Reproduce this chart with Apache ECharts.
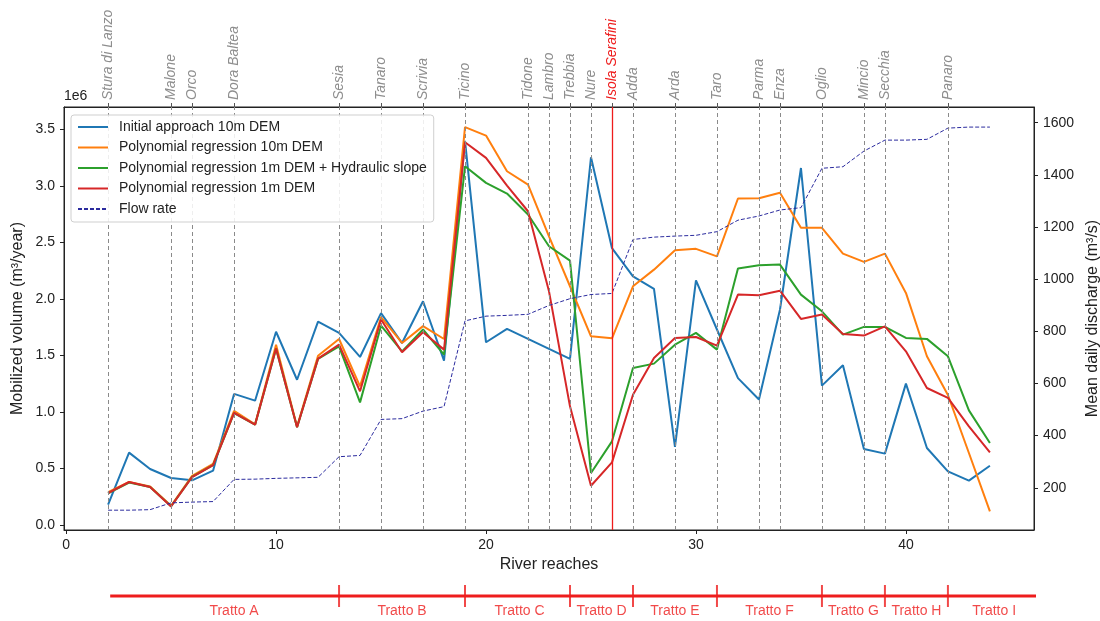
<!DOCTYPE html>
<html>
<head>
<meta charset="utf-8">
<script src="https://cdn.jsdelivr.net/npm/echarts@6/dist/echarts.min.js"></script>
<style>
  html, body { margin: 0; padding: 0; background: #ffffff; }
  #chart { width: 1100px; height: 621px; }
</style>
</head>
<body>
<div id="chart"></div>
<script>
// River reach index along the Po
const reaches = [2, 3, 4, 5, 6, 7, 8, 9, 10, 11, 12, 13, 14, 15, 16, 17, 18, 19, 20, 21, 22, 23,
  24, 25, 26, 27, 28, 29, 30, 31, 32, 33, 34, 35, 36, 37, 38, 39, 40, 41, 42, 43, 44];

// Mobilized volume, units of 1e6 m3/year
const initialApproach10m = [0.18, 0.64, 0.495, 0.415, 0.395, 0.48, 1.16, 1.10, 1.71, 1.285, 1.80,
  1.70, 1.487, 1.875, 1.61, 1.98, 1.455, 3.40, 1.617, 1.735, 1.647, 1.558, 1.47, 3.255, 2.45, 2.20,
  2.09, 0.69, 2.165, 1.73, 1.30, 1.11, 1.905, 3.16, 1.233, 1.413, 0.672, 0.631, 1.251, 0.681, 0.474,
  0.392, 0.524];
const polyReg10m = [0.29, 0.38, 0.34, 0.17, 0.435, 0.54, 1.01, 0.89, 1.596, 0.87, 1.498, 1.646,
  1.227, 1.84, 1.611, 1.76, 1.646, 3.522, 3.447, 3.131, 3.013, 2.555, 2.113, 1.67, 1.652, 2.113, 2.26,
  2.432, 2.444, 2.378, 2.89, 2.892, 2.94, 2.63, 2.63, 2.402, 2.329, 2.402, 2.054, 1.493, 1.15, 0.637,
  0.12];
const polyReg1mSlope = [0.28, 0.375, 0.335, 0.165, 0.425, 0.53, 0.99, 0.888, 1.56, 0.865, 1.47,
  1.58, 1.085, 1.764, 1.536, 1.73, 1.508, 3.175, 3.028, 2.934, 2.748, 2.467, 2.34, 0.46, 0.74, 1.39,
  1.428, 1.596, 1.70, 1.552, 2.27, 2.299, 2.305, 2.039, 1.891, 1.685, 1.753, 1.753, 1.655, 1.647, 1.493,
  1.014, 0.725];
const polyReg1m = [0.282, 0.38, 0.336, 0.164, 0.424, 0.53, 0.991, 0.888, 1.561, 0.864, 1.472, 1.596,
  1.183, 1.818, 1.528, 1.705, 1.552, 3.388, 3.25, 3.004, 2.777, 2.068, 1.05, 0.347, 0.554, 1.153, 1.478,
  1.655, 1.664, 1.587, 2.039, 2.033, 2.074, 1.824, 1.862, 1.691, 1.676, 1.758, 1.537, 1.212, 1.124,
  0.873, 0.642];

// Mean daily discharge, m3/s
const flowRate = [114, 114, 116, 142, 145, 147, 232, 233, 236, 238, 240, 319, 324, 462, 465, 494,
  511, 840, 858, 861, 865, 899, 925, 941, 945, 1152, 1161, 1165, 1168, 1182, 1226, 1242, 1265, 1274,
  1425, 1431, 1491, 1533, 1533, 1536, 1579, 1583, 1583];

// Tributaries / confluences marked along the reaches
const riverNames = ['Stura di Lanzo', 'Malone', 'Orco', 'Dora Baltea', 'Sesia', 'Tanaro', 'Scrivia',
  'Ticino', 'Tidone', 'Lambro', 'Trebbia', 'Nure', 'Isola Serafini', 'Adda', 'Arda', 'Taro', 'Parma',
  'Enza', 'Oglio', 'Mincio', 'Secchia', 'Panaro'];
const riverReach = [2, 5, 6, 8, 13, 15, 17, 19, 22, 23, 24, 25, 26, 27, 29, 31, 33, 34, 36, 38, 39, 42];
const damReach = 26;

// Tick labels
const xTicks = [0, 10, 20, 30, 40];
const volumeTicks = [0, 0.5, 1.0, 1.5, 2.0, 2.5, 3.0, 3.5];
const dischargeTicks = [200, 400, 600, 800, 1000, 1200, 1400, 1600];

// River stretches ("tratti") below the axis
const trattoStart = 2.1;
const trattoEnd = 46.2;
const trattoBreaks = [13, 19, 24, 27, 31, 36, 39, 42];
const trattoNames = ['Tratto A', 'Tratto B', 'Tratto C', 'Tratto D', 'Tratto E', 'Tratto F',
  'Tratto G', 'Tratto H', 'Tratto I'];
const trattoLabelAt = [8, 16, 21.6, 25.5, 29, 33.5, 37.5, 40.5, 44.2];

const FONT = "'Liberation Sans', Arial, Helvetica, sans-serif";
const INK = '#222222';
const RED = '#ee1c1c';
const X_MIN = -0.1, X_MAX = 46.1;
const V_MIN = -0.045, V_MAX = 3.70;
const Q_MIN = 38, Q_MAX = 1660;

const pair = vals => reaches.map((r, i) => [r, vals[i]]);

const chart = echarts.init(document.getElementById('chart'), null, { renderer: 'canvas' });

const lineSeries = (name, vals, color) => ({
  name, type: 'line', xAxisIndex: 0, yAxisIndex: 0, data: pair(vals),
  symbol: 'none', showSymbol: false,
  lineStyle: { color, width: 2 }, itemStyle: { color },
  emphasis: { disabled: true }, z: 3
});

chart.setOption({
  animation: false,
  textStyle: { fontFamily: FONT },
  grid: [
    { left: 64, right: 66, top: 107, height: 423, show: true, borderColor: INK, borderWidth: 1,
      backgroundColor: 'transparent', containLabel: false, outerBoundsMode: 'none' },
    { left: 64, right: 66, top: 576, height: 40, show: false, outerBoundsMode: 'none' }
  ],
  xAxis: [
    { type: 'value', gridIndex: 0, position: 'bottom', min: X_MIN, max: X_MAX,
      name: 'River reaches', nameLocation: 'middle', nameGap: 25,
      nameTextStyle: { fontSize: 16, color: INK, fontFamily: FONT },
      axisLine: { show: true, onZero: false, lineStyle: { color: INK, width: 1 } },
      axisTick: { show: true, customValues: xTicks, length: 4, lineStyle: { color: INK } },
      axisLabel: { customValues: xTicks, fontSize: 14, color: INK, margin: 8, fontFamily: FONT },
      splitLine: { show: false } },
    { type: 'value', gridIndex: 0, position: 'top', min: X_MIN, max: X_MAX,
      axisLine: { show: true, onZero: false, lineStyle: { color: INK, width: 1 } },
      axisTick: { show: true, customValues: riverReach, length: 4, lineStyle: { color: '#555' } },
      axisLabel: {
        customValues: riverReach, rotate: -90, margin: 7, fontSize: 14, fontStyle: 'italic',
        color: '#8e8e8e', fontFamily: FONT,
        formatter: v => {
          const name = riverNames[riverReach.indexOf(v)];
          return v === damReach ? '{dam|' + name + '}' : name;
        },
        rich: { dam: { color: RED, fontStyle: 'italic', fontSize: 14, fontFamily: FONT } }
      },
      splitLine: { show: false } },
    { type: 'value', gridIndex: 1, min: X_MIN, max: X_MAX, show: false }
  ],
  yAxis: [
    { type: 'value', gridIndex: 0, position: 'left', min: V_MIN, max: V_MAX,
      name: '1e6', nameLocation: 'end', nameGap: 4,
      nameTextStyle: { fontSize: 14, color: INK, align: 'left', verticalAlign: 'bottom', fontFamily: FONT },
      axisLine: { show: true, onZero: false, lineStyle: { color: INK, width: 1 } },
      axisTick: { show: true, customValues: volumeTicks, length: 4, lineStyle: { color: INK } },
      axisLabel: { customValues: volumeTicks, fontSize: 14, color: INK, margin: 9,
        formatter: v => v.toFixed(1), fontFamily: FONT },
      splitLine: { show: false } },
    { type: 'value', gridIndex: 0, position: 'right', min: Q_MIN, max: Q_MAX,
      name: 'Mean daily discharge (m³/s)', nameLocation: 'middle', nameGap: 48,
      nameTextStyle: { fontSize: 16, color: INK, fontFamily: FONT },
      axisLine: { show: true, onZero: false, lineStyle: { color: INK, width: 1 } },
      axisTick: { show: true, customValues: dischargeTicks, length: 4, lineStyle: { color: INK } },
      axisLabel: { customValues: dischargeTicks, fontSize: 14, color: INK, margin: 9,
        formatter: v => String(Math.round(v)), fontFamily: FONT },
      splitLine: { show: false } },
    { type: 'value', gridIndex: 1, min: -1, max: 1, show: false },
    { type: 'value', gridIndex: 0, position: 'left', min: V_MIN, max: V_MAX,
      name: 'Mobilized volume (m³/year)', nameLocation: 'middle', nameGap: 38,
      nameTextStyle: { fontSize: 16, color: INK, fontFamily: FONT },
      axisLine: { show: false }, axisTick: { show: false }, axisLabel: { show: false },
      splitLine: { show: false } }
  ],
  legend: {
    data: ['Initial approach 10m DEM', 'Polynomial regression 10m DEM',
      'Polynomial regression 1m DEM + Hydraulic slope', 'Polynomial regression 1m DEM', 'Flow rate'],
    orient: 'vertical', left: 71, top: 115,
    itemWidth: 30, itemHeight: 14, itemGap: 6.5,
    padding: [5, 7, 6, 6],
    itemStyle: { opacity: 0 },
    backgroundColor: 'rgba(255,255,255,0.85)', borderColor: '#cfcfcf', borderWidth: 1, borderRadius: 3,
    textStyle: { fontSize: 14, color: INK, lineHeight: 14, padding: [0, 0, 0, 6], fontFamily: FONT },
    selectedMode: false, z: 20
  },
  series: [
    // reach markers: tributary confluences (dashed) and the Isola Serafini dam (solid red)
    { type: 'line', xAxisIndex: 0, yAxisIndex: 0, data: [], silent: true, z: 1,
      markLine: {
        silent: true, animation: false, symbol: ['none', 'none'], label: { show: false },
        emphasis: { disabled: true },
        data: riverReach.map(r => ({
          xAxis: r,
          lineStyle: r === damReach
            ? { color: RED, type: 'solid', width: 1.3 }
            : { color: '#8a8a8a', type: [4, 3], width: 1 }
        }))
      } },
    lineSeries('Initial approach 10m DEM', initialApproach10m, '#1f77b4'),
    lineSeries('Polynomial regression 10m DEM', polyReg10m, '#ff7f0e'),
    lineSeries('Polynomial regression 1m DEM + Hydraulic slope', polyReg1mSlope, '#2ca02c'),
    lineSeries('Polynomial regression 1m DEM', polyReg1m, '#d62728'),
    { name: 'Flow rate', type: 'line', xAxisIndex: 0, yAxisIndex: 1, data: pair(flowRate),
      symbol: 'none', showSymbol: false, z: 4,
      lineStyle: { color: '#2b2b9e', width: 1, type: [4, 2] }, itemStyle: { color: '#2b2b9e' },
      emphasis: { disabled: true } },
    // stretches bar under the plot
    { type: 'line', xAxisIndex: 2, yAxisIndex: 2, data: [[trattoStart, 0], [trattoEnd, 0]],
      clip: false, symbol: 'none', silent: true,
      lineStyle: { color: RED, width: 3 }, itemStyle: { color: RED } },
    { type: 'scatter', xAxisIndex: 2, yAxisIndex: 2, data: trattoBreaks.map(b => [b, 0]),
      clip: false, symbol: 'rect', symbolSize: [2, 22], silent: true,
      itemStyle: { color: RED } },
    { type: 'scatter', xAxisIndex: 2, yAxisIndex: 2, clip: false, silent: true,
      data: trattoNames.map((n, i) => ({ name: n, value: [trattoLabelAt[i], 0] })),
      symbol: 'circle', symbolSize: 1, itemStyle: { color: 'rgba(0,0,0,0)' },
      label: { show: true, position: 'bottom', distance: 8, formatter: '{b}', color: RED,
        fontSize: 14, fontFamily: FONT } }
  ]
});
</script>
</body>
</html>
